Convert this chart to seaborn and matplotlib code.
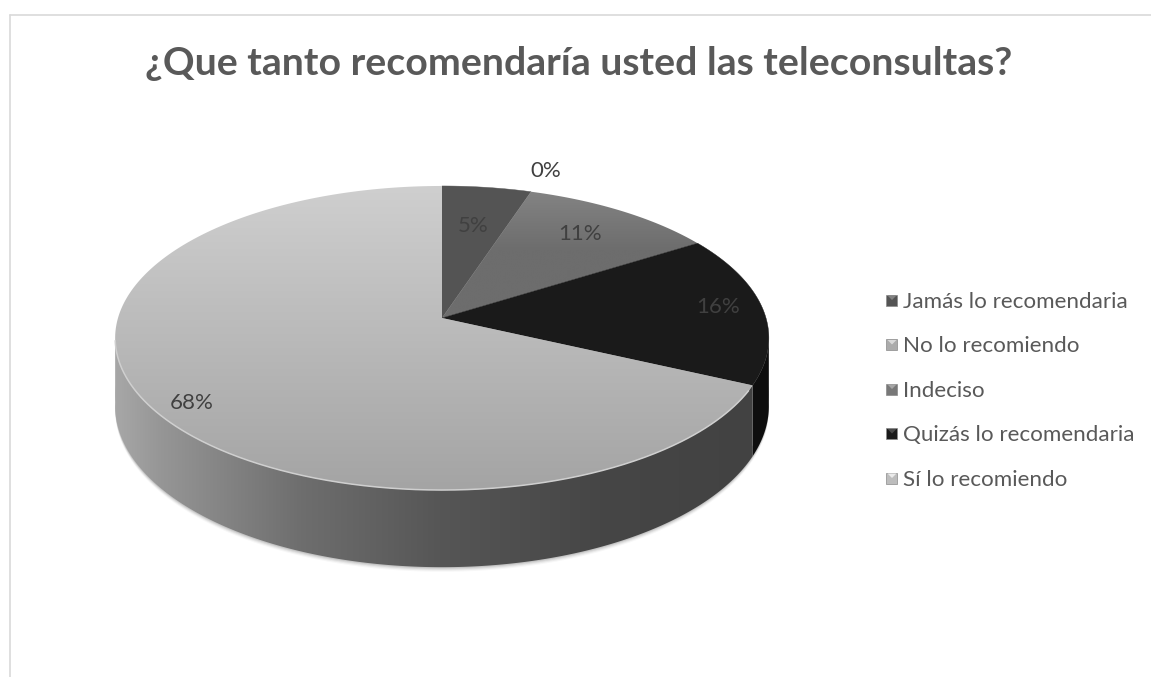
import numpy as np
import matplotlib
matplotlib.use("Agg")
import matplotlib.pyplot as plt
import seaborn as sns
from matplotlib.patches import Polygon, Rectangle
from matplotlib.lines import Line2D

# ---- data -------------------------------------------------------------
categories = ["Jamás lo recomendaria", "No lo recomiendo", "Indeciso",
              "Quizás lo recomendaria", "Sí lo recomiendo"]
percentages = [5, 0, 11, 16, 68]
slice_colors = ["#545454", "#ababab", "#787878", "#1a1a1a", "#bdbdbd"]
title_text = "¿Que tanto recomendaría usted las teleconsultas?"

# label placement on the top face: radius fraction and vertical nudge (px)
label_radius = [0.66, 1.19, 0.75, 0.86, 0.86]
label_nudge = [-2, 0, -2, -3, 12]

# ---- style ------------------------------------------------------------
sns.set_theme(style="white")
plt.rcParams["font.family"] = ["Lato", "DejaVu Sans"]

W, H_PX = 1151, 677
fig = plt.figure(figsize=(W / 100, H_PX / 100), dpi=100)
ax = fig.add_axes([0, 0, 1, 1])
ax.set_xlim(0, W)
ax.set_ylim(H_PX, 0)
ax.axis("off")
renderer = fig.canvas.get_renderer()

# ---- 3-D pie geometry (pixel space, perspective view) -----------------
CX, CY = 442.0, 318.0      # projected pie centre
RX, RY = 324.0, 149.4      # horizontal / vertical radii
PERSP = 0.1316             # perspective strength
DEPTH = 67.0               # wall thickness


def proj(theta_deg, r=1.0, drop=0.0):
    th = np.radians(theta_deg)
    u = r * np.sin(th)
    v = r * np.cos(th)
    w = 1 + PERSP * v
    return CX + RX * u / w, CY - RY * v / w + drop / w


def arc(t0, t1, r=1.0, drop=0.0, n=None):
    n = n or max(2, int(abs(t1 - t0) * 2) + 2)
    th = np.linspace(t0, t1, n)
    x, y = proj(th, r, drop)
    return np.column_stack([x, y])


def gradient_fill(poly_xy, cols, stops, axis="y", zorder=2):
    xs, ys = poly_xy[:, 0], poly_xy[:, 1]
    x0, x1, y0, y1 = xs.min() - 2, xs.max() + 2, ys.min() - 2, ys.max() + 2
    rgb = np.array([matplotlib.colors.to_rgb(c) for c in cols])
    if axis == "y":
        pos = np.linspace(y0, y1, 256)
    else:
        pos = np.linspace(x0, x1, 256)
    chans = np.stack([np.interp(pos, stops, rgb[:, k]) for k in range(3)], -1)
    img = chans[:, None, :] if axis == "y" else chans[None, :, :]
    im = ax.imshow(img, extent=[x0, x1, y1, y0], origin="upper",
                   interpolation="bilinear", zorder=zorder)
    patch = Polygon(poly_xy, closed=True, facecolor="none", edgecolor="none",
                    transform=ax.transData)
    ax.add_patch(patch)
    im.set_clip_path(patch)


bounds = np.concatenate([[0], np.cumsum(percentages)]) * 3.6
vis0 = np.degrees(np.arccos(-PERSP))        # first visible wall angle
vis1 = 360 - vis0                           # last visible wall angle

# soft shadow below the body
for k, a in zip([4, 3, 2, 1], [0.03, 0.05, 0.07, 0.09]):
    low = arc(vis0 - 8, vis1 + 8, drop=DEPTH + k)
    top_edge = arc(vis1 + 8, vis0 - 8, drop=DEPTH - 10)
    ax.add_patch(Polygon(np.vstack([low, top_edge]), closed=True,
                         facecolor="black", edgecolor="none", alpha=a, zorder=1))

# side walls
for i, val in enumerate(percentages):
    t0, t1 = max(bounds[i], vis0), min(bounds[i + 1], vis1)
    if val <= 0 or t1 <= t0:
        continue
    wall = np.vstack([arc(t0, t1), arc(t1, t0, drop=DEPTH)])
    if categories[i] == "Sí lo recomiendo":
        gradient_fill(wall, ["#a6a6a6", "#969696", "#6e6e6e", "#565656", "#464646", "#424242"],
                      [118, 160, 300, 440, 600, 760], axis="x", zorder=2)
    else:
        ax.add_patch(Polygon(wall, closed=True, facecolor="#0e0e0e",
                             edgecolor="none", zorder=2))

# top faces
for i, val in enumerate(percentages):
    if val <= 0:
        continue
    t0, t1 = bounds[i], bounds[i + 1]
    face = np.vstack([[[CX, CY]], arc(t0, t1)])
    if categories[i] == "Sí lo recomiendo":
        gradient_fill(face, ["#cfcfcf", "#bcbcbc", "#a4a4a4"], [186, 320, 490], zorder=3)
    elif categories[i] == "Indeciso":
        gradient_fill(face, ["#848484", "#6d6d6d"], [190, 250], zorder=3)
    else:
        ax.add_patch(Polygon(face, closed=True, facecolor=slice_colors[i],
                             edgecolor=slice_colors[i], linewidth=0.3, zorder=3))

# light bevel along the front rim of the large slice
rim = arc(max(bounds[4], vis0) + 2, vis1 - 1)
ax.plot(rim[:, 0], rim[:, 1], color="#cfcfcf", lw=1.1, zorder=4,
        solid_capstyle="round")

# ---- percentage labels -------------------------------------------------
LABEL_FS = 16
for i, val in enumerate(percentages):
    mid = (bounds[i] + bounds[i + 1]) / 2
    lx, ly = proj(mid, label_radius[i])
    ax.text(lx, ly + label_nudge[i], f"{val}%", ha="center", va="center",
            fontsize=LABEL_FS, color="#404040", zorder=6)

# ---- title ---------------------------------------------------------------
title = ax.text(579, 75, title_text, ha="center", va="baseline",
                fontsize=26, fontweight="bold", color="#595959", zorder=6)
tw = title.get_window_extent(renderer).width
title.set_fontsize(26 * 868 / tw)

# ---- legend ----------------------------------------------------------------
LEG_FS = 15
row_y = 300.0
row_gap = 44.5
texts = []
for i, name in enumerate(categories):
    y = row_y + i * row_gap
    c = slice_colors[i]
    ax.add_patch(Rectangle((886.5, y - 5.5), 11, 11, facecolor=c,
                           edgecolor="#8a8a8a", linewidth=0.5, zorder=6))
    light = matplotlib.colors.to_rgb(c)
    light = tuple(min(1, ch + 0.18) for ch in light)
    ax.add_patch(Polygon([[887.5, y - 4.5], [896.5, y - 4.5], [892, y]],
                         closed=True, facecolor=light, edgecolor="none", zorder=7))
    t = ax.text(903, y, name, ha="left", va="center_baseline",
                fontsize=LEG_FS, color="#595959", zorder=6)
    texts.append(t)
lw_ = texts[0].get_window_extent(renderer).width
for t in texts:
    t.set_fontsize(LEG_FS * 224 / lw_)

# ---- chart-area frame -------------------------------------------------------
ax.add_line(Line2D([10, W], [14.5, 14.5], color="#d9d9d9", lw=1.2, zorder=0))
ax.add_line(Line2D([10, 10], [14.5, H_PX], color="#d9d9d9", lw=1.2, zorder=0))

ax.set_aspect("auto")
ax.set_xlim(0, W)
ax.set_ylim(H_PX, 0)
fig.savefig("out.png", dpi=100)
